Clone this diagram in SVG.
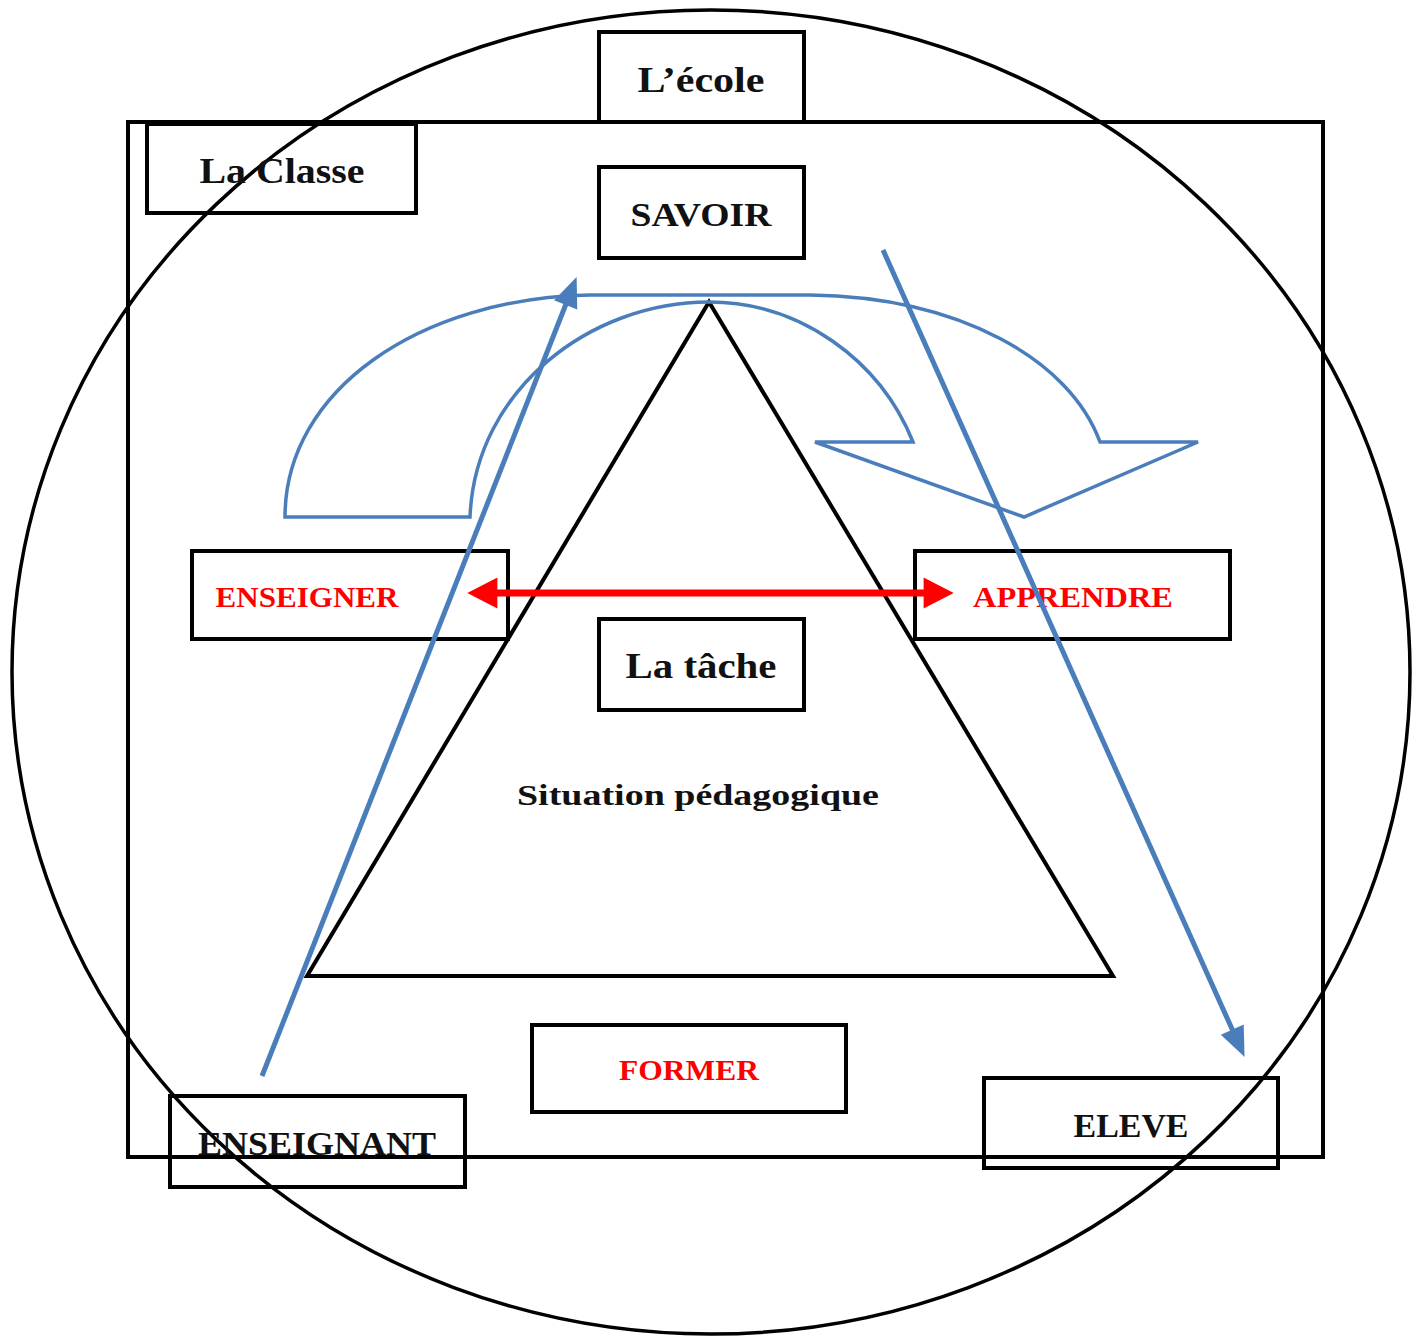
<svg xmlns="http://www.w3.org/2000/svg" width="1418" height="1336" viewBox="0 0 1418 1336">
<defs>
<style>
.box{fill:none;stroke:#000;stroke-width:4}
.t{font-family:"Liberation Serif","DejaVu Serif",serif;font-weight:bold;text-anchor:middle;fill:#111}
.r{fill:#f00}
.blue{fill:none;stroke:#4a7ebb;stroke-width:5}
</style>
<marker id="bh" markerWidth="6" markerHeight="5" refX="0.2" refY="2.5" orient="auto" markerUnits="strokeWidth" overflow="visible">
<path d="M0,0 L6,2.5 L0,5 Z" fill="#4a7ebb"/>
</marker>
<marker id="rh" markerWidth="4.3" markerHeight="4.4" refX="0.2" refY="2.2" orient="auto-start-reverse" markerUnits="strokeWidth" overflow="visible">
<path d="M0,0 L4.3,2.2 L0,4.4 Z" fill="#f00"/>
</marker>
</defs>
<rect width="1418" height="1336" fill="#fff"/>
<g id="ecole-circle"><ellipse cx="711" cy="672" rx="699" ry="662" fill="none" stroke="#000" stroke-width="3.5"/></g>
<g id="classe-rect"><rect x="128" y="122" width="1195" height="1035" class="box"/></g>
<g id="triangle"><path d="M709 302 L1113 976 L307 976 Z" fill="none" stroke="#000" stroke-width="4"/></g>
<g id="lecole"><rect x="599" y="32" width="205" height="90" class="box"/><text x="701" y="92" class="t" font-size="36" textLength="127" lengthAdjust="spacingAndGlyphs">L’école</text></g>
<g id="laclasse"><rect x="147" y="124" width="269" height="89" class="box"/><text x="282" y="183" class="t" font-size="36" textLength="165" lengthAdjust="spacingAndGlyphs">La Classe</text></g>
<g id="savoir"><rect x="599" y="167" width="205" height="91" class="box"/><text x="701" y="226" class="t" font-size="34" textLength="141" lengthAdjust="spacingAndGlyphs">SAVOIR</text></g>
<g id="enseigner"><rect x="192" y="551" width="316" height="88" class="box"/><text x="307" y="607" class="t r" font-size="30" textLength="183" lengthAdjust="spacingAndGlyphs">ENSEIGNER</text></g>
<g id="apprendre"><rect x="915" y="551" width="315" height="88" class="box"/><text x="1073" y="607" class="t r" font-size="30" textLength="200" lengthAdjust="spacingAndGlyphs">APPRENDRE</text></g>
<g id="latache"><rect x="599" y="619" width="205" height="91" class="box"/><text x="701" y="678" class="t" font-size="36" textLength="151" lengthAdjust="spacingAndGlyphs">La tâche</text></g>
<g id="situation"><text x="698" y="805" class="t" font-size="30" textLength="362" lengthAdjust="spacingAndGlyphs">Situation pédagogique</text></g>
<g id="former"><rect x="532" y="1025" width="314" height="87" class="box"/><text x="689" y="1080" class="t r" font-size="30" textLength="140" lengthAdjust="spacingAndGlyphs">FORMER</text></g>
<g id="enseignant"><rect x="170" y="1096" width="295" height="91" class="box"/><text x="317" y="1155" class="t" font-size="34" textLength="238" lengthAdjust="spacingAndGlyphs">ENSEIGNANT</text></g>
<g id="eleve"><rect x="984" y="1078" width="294" height="90" class="box"/><text x="1131" y="1137" class="t" font-size="34" textLength="115" lengthAdjust="spacingAndGlyphs">ELEVE</text></g>
<g id="connectors">
<path id="curved-arrow" d="M285 517 C285 390 420 298 590 295 L810 295 C960 297 1070 360 1100 442 L1198 442 L1024 517 L815 442 L913 442 C880 360 800 302 709 302 C590 302 475 390 470 517 Z" fill="none" stroke="#4a7ebb" stroke-width="3.5" stroke-linejoin="miter"/>
<line x1="262" y1="1076" x2="566" y2="304" class="blue" marker-end="url(#bh)"/>
<line x1="883" y1="250" x2="1232.7" y2="1030.6" class="blue" marker-end="url(#bh)"/>
<line x1="496" y1="593" x2="925" y2="593" stroke="#f00" stroke-width="7" marker-start="url(#rh)" marker-end="url(#rh)"/>
</g>
</svg>
